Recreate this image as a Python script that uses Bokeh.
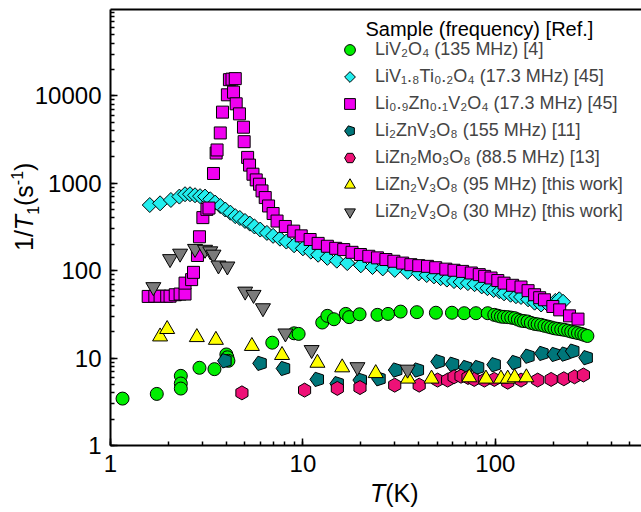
import math
from bokeh.plotting import figure
from bokeh.layouts import column
from bokeh.models import (Range1d, LogAxis, Legend, LegendItem, Label, LogTicker,
                          FixedTicker, NumeralTickFormatter, Div)
from bokeh.embed import file_html
from bokeh.resources import INLINE

FONT = "Liberation Sans"

# ---------------- data (T in K, 1/T1 in s^-1) ----------------
liv2o4_T = [1.155, 1.74, 2.32, 2.32, 2.32, 2.90, 3.47, 4.0, 4.05, 4.1, 6.93, 9.0, 9.5,
            12.6, 13.4, 14.5, 16.7, 17.4, 19.7, 24.4, 27.7, 32.2, 39.1, 49.1, 59.5,
            68.9, 79.3, 91.3, 98.8, 103, 107, 111, 116, 121, 126, 131, 136, 141, 147,
            153, 160, 166, 173, 180, 188, 195, 203, 211, 220, 229, 239, 248, 258, 269,
            280, 290, 301]
liv2o4_R = [3.44, 3.89, 6.26, 5.12, 4.48, 7.74, 7.47, 11.0, 10.2, 9.3, 15.0, 19.2, 18.9,
            25.5, 30.4, 27.8, 32.0, 29.4, 31.7, 31.2, 32.0, 34.0, 33.5, 33.0, 33.0,
            32.6, 32.6, 32.6, 31.2, 30.5, 29.8, 29.6, 29.4, 29.0, 28.6, 27.6, 26.8, 26.5, 26.2,
            25.3, 24.6, 24.3, 24.0, 23.4, 22.9, 22.4, 21.9, 21.6, 21.3, 21.0, 20.6, 20.1, 19.7, 19.3,
            18.9, 18.4, 17.9]

livti_T = [1.60, 1.81, 2.06, 2.28, 2.44, 2.59, 2.75, 2.92, 3.10, 3.30, 3.50, 3.72, 3.95,
           4.2, 4.45, 4.7, 5.0, 5.3, 5.6, 6.0, 6.5, 7.0, 7.6, 8.2, 9.0, 10, 11, 12, 13.4,
           15, 17, 20, 23, 26, 30, 35, 40, 44, 48, 52, 56, 61, 66, 72, 78, 85, 91, 98,
           105, 111, 120, 128, 136, 148, 160, 173, 190, 205, 215, 225]
livti_R = [563, 589, 643, 703, 748, 748, 728, 711, 703, 655, 600, 549, 500,
           460, 420, 400, 370, 345, 320, 295, 270, 250, 232, 215, 195, 180, 165, 152, 140,
           130, 122, 115, 110, 106, 102, 97, 93, 89, 86, 82, 79, 76, 74, 72, 70, 66, 63, 60,
           58, 55, 53, 51, 50, 47, 43, 41, 40, 45, 47, 44]

lizn_T = [1.57, 1.70, 1.81, 1.96, 2.04, 2.17, 2.30, 2.44, 2.44, 2.64, 2.70, 2.83, 2.90,
          3.02, 3.17, 3.25, 3.43, 3.54, 3.58, 3.72, 3.82, 4.05, 4.15, 4.28, 4.36, 4.45,
          4.50, 4.68, 4.91, 4.95, 5.16, 5.28, 5.50, 5.72, 5.95, 6.13, 6.37, 6.63, 7.0,
          7.34, 8.1, 8.96, 9.8, 10.9, 12.0, 13.4, 14.8, 16.3, 18.0, 19.9, 22.0, 24.4,
          27.0, 29.7, 33.0, 36.4, 40.0, 44.4, 49.0, 55.3, 61.0, 67.6, 75.0, 82.5, 88.0,
          95, 103, 111, 123, 136, 148, 160, 170, 180, 199, 216, 243, 269]
lizn_R = [50.7, 51, 51, 51, 51, 53, 54, 54, 72, 78.9, 95.6, 149, 244,
          404, 502, 520, 1292, 2213, 2400, 3757, 6500, 10260, 15280, 15500, 11000, 15700,
          8090, 6210, 4370, 2985, 1973, 1610, 1268, 1091, 974, 816, 685, 549, 450,
          369, 320, 283, 250, 227, 205, 190, 180, 174, 162, 153, 146, 140,
          134, 128, 122, 117, 114, 112, 108, 104, 101, 98, 94, 90, 86,
          82.4, 77, 72, 68, 65, 59, 53, 49, 46.4, 38.9, 35.6, 30.4, 27.9]

li2znv3o8_T = [3.94, 6.0, 7.94, 11.9, 15.1, 19.9, 24.9, 30.4, 39.4, 50.5, 60, 70.3, 81,
               98.8, 126, 148, 175, 203, 229, 253, 297]
li2znv3o8_R = [9.3, 8.7, 7.6, 5.7, 5.1, 5.6, 5.8, 7.3, 7.3, 9.1, 8.5, 7.8, 7.8,
               8.4, 8.9, 10.5, 11.3, 11.0, 11.1, 12.0, 10.1]

lizn2mo3o8_T = [4.82, 10.2, 15.1, 19.8, 30.0, 40.2, 50.1, 56.5, 61.0, 66.3, 72.1, 77.7,
                87.7, 98.8, 116, 136, 166, 195, 227, 258, 287]
lizn2mo3o8_R = [4.0, 4.3, 4.5, 4.6, 4.9, 4.9, 5.6, 5.6, 6.1, 6.2, 6.0, 5.7,
                5.6, 5.7, 5.3, 5.6, 5.6, 5.7, 5.8, 6.1, 6.4]

lizn2v3o8_95_T = [1.81, 1.97, 2.81, 3.53, 5.43, 7.79, 11.9, 16.0, 23.9, 35.2, 46.6, 73.2,
                  89.4, 107, 116, 126, 145]
lizn2v3o8_95_R = [17.6, 21.4, 17.3, 16.1, 13.7, 10.8, 8.8, 7.8, 6.7, 5.8, 5.8, 6.0,
                  5.8, 5.8, 5.8, 6.0, 6.0]

lizn2v3o8_30_T = [1.67, 2.04, 2.30, 2.75, 3.10, 3.30, 3.43, 3.64, 4.05, 5.01, 5.54, 6.20,
                  8.11, 11.1, 19.2, 35.0]
lizn2v3o8_30_R = [65, 136, 157, 178, 174, 167, 153, 115, 112, 57.8, 53, 37.3,
                  19.2, 12.4, 7.9, 7.4]

labels = ["LiV\u2082O\u2084 (135 MHz) [4]",
          "LiV\u2081.\u2088Ti\u2080.\u2082O\u2084 (17.3 MHz) [45]",
          "Li\u2080.\u2089Zn\u2080.\u2081V\u2082O\u2084 (17.3 MHz) [45]",
          "Li\u2082ZnV\u2083O\u2088 (155 MHz) [11]",
          "LiZn\u2082Mo\u2083O\u2088 (88.5 MHz) [13]",
          "LiZn\u2082V\u2083O\u2088 (95 MHz) [this work]",
          "LiZn\u2082V\u2083O\u2088 (30 MHz) [this work]"]
legend_title = "Sample (frequency) [Ref.]"
x_title_html = '<i>T</i>(K)'
y_title_html = ('1/<i>T</i><span style="font-size:16px;position:relative;top:6px">1</span>'
                '(s<span style="font-size:16px;position:relative;top:-10px">-1</span>)')

# ---------------- figure ----------------
p = figure(width=641, height=512, x_axis_type="log", y_axis_type="log",
           x_range=Range1d(1, 575), y_range=Range1d(1, 97000),
           output_backend="svg", toolbar_location=None,
           min_border_left=110, min_border_right=0, min_border_top=9, min_border_bottom=67)
p.outline_line_color = None
p.grid.visible = False
p.background_fill_color = "white"
p.border_fill_color = "white"

for ax in (p.xaxis[0], p.yaxis[0]):
    ax.axis_line_width = 2
    ax.axis_line_color = "black"
    ax.major_tick_in = 7
    ax.major_tick_out = 0
    ax.minor_tick_in = 4
    ax.minor_tick_out = 0
    ax.major_tick_line_width = 1.5
    ax.minor_tick_line_width = 1.5
    ax.major_tick_line_color = "black"
    ax.minor_tick_line_color = "black"
    ax.major_label_text_font = FONT
    ax.major_label_text_font_size = "24px"
    ax.major_label_text_color = "black"
    ax.major_label_standoff = 9
    ax.formatter = NumeralTickFormatter(format="0")
    ax.ticker = LogTicker(num_minor_ticks=10)

top = LogAxis(ticker=FixedTicker(ticks=[]), axis_line_width=2, axis_line_color="black",
              major_tick_in=0, major_tick_out=0, minor_tick_in=0, minor_tick_out=0,
              major_label_standoff=0, major_label_text_font_size="0px")
p.add_layout(top, "above")

r_g = p.scatter(liv2o4_T, liv2o4_R, marker="circle", size=13, fill_color="#00EE00",
                line_color="black", line_width=1)
r_c = p.ngon(livti_T, livti_R, radius=7.5, n=4, radius_units="screen",
             angle=math.pi / 2, fill_color="#22EEEE", line_color="black", line_width=1)
r_m = p.scatter(lizn_T, lizn_R, marker="square", size=12, fill_color="#F000F0",
                line_color="black", line_width=1)
r_t = p.ngon(li2znv3o8_T, li2znv3o8_R, radius=7.5, n=5, radius_units="screen",
             angle=math.pi / 2, fill_color="#00767A", line_color="black", line_width=1)
r_p = p.scatter(lizn2mo3o8_T, lizn2mo3o8_R, marker="hex", angle=math.pi / 2, size=14,
                fill_color="#EE1177", line_color="black", line_width=1)
r_y = p.scatter(lizn2v3o8_95_T, lizn2v3o8_95_R, marker="triangle", size=15,
                fill_color="#FFFF00", line_color="black", line_width=1)
r_k = p.scatter(lizn2v3o8_30_T, lizn2v3o8_30_R, marker="inverted_triangle", size=15,
                fill_color="#7A7A7A", line_color="black", line_width=1)

items = [LegendItem(label=l, renderers=[r]) for l, r in
         zip(labels, [r_g, r_c, r_m, r_t, r_p, r_y, r_k])]
leg = Legend(items=items, location=(226, 220), glyph_width=27, glyph_height=27,
             label_height=27, spacing=0, padding=0, margin=0, label_standoff=12,
             label_text_font=FONT, label_text_font_size="18px",
             border_line_color=None, background_fill_alpha=0)
p.add_layout(leg, "center")

p.add_layout(Label(x=255, y=417, x_units="screen", y_units="screen", text=legend_title,
                   text_font=FONT, text_font_size="20px", text_color="black",
                   text_align="left", text_baseline="alphabetic"))

# ---------------- axis titles (HTML so that T is italic, with sub/superscripts) ----------------
def floating(html, left, top, size, rotate=False):
    css = (":host { position: absolute !important; left: %dpx !important; top: %dpx !important;"
           " margin: 0 !important; padding: 0 !important; %s }"
           % (left, top, "transform: rotate(-90deg); transform-origin: 0 0;" if rotate else ""))
    inner = ('<span style="font-family:\'%s\';font-size:%dpx;line-height:%dpx;'
             'white-space:nowrap;color:#000">%s</span>' % (FONT, size, size, html))
    return Div(text=inner, stylesheets=[css], margin=0)

x_title = floating(x_title_html, 370, 481, 25)
y_title = floating(y_title_html, 12, 251, 25, rotate=True)

layout = column(p, x_title, y_title, spacing=0)
open("out.html", "w").write(file_html(layout, INLINE))
